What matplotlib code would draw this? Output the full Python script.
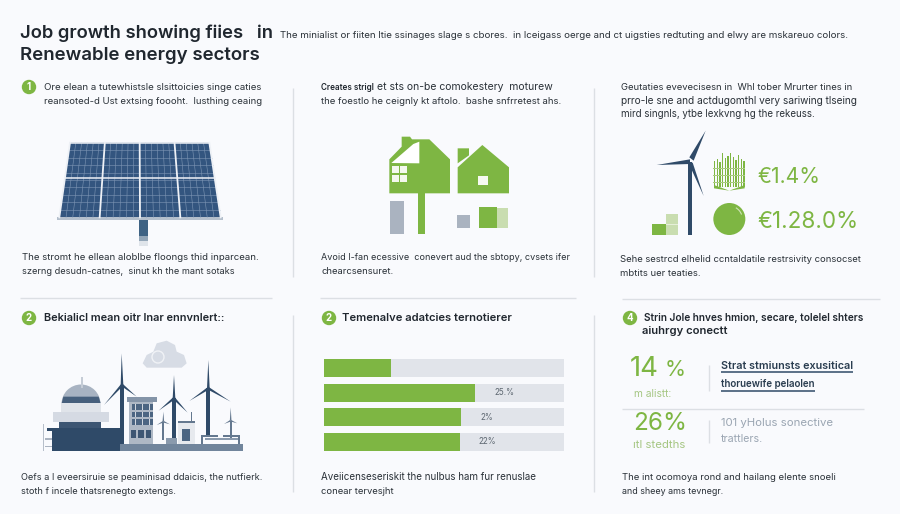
import matplotlib
matplotlib.use("Agg")
import matplotlib.pyplot as plt
from matplotlib.patches import Polygon, Rectangle, Circle, Wedge, Arc

plt.rcParams['font.family'] = ['Inter', 'DejaVu Sans']

BG = "#f9fafd"
INK = "#20272f"
BODY = "#2a3138"
GREEN = "#7eb643"
LIGHTGREEN = "#c9ddb0"
PALEGREEN = "#a5c682"
NAVY = "#2f4a68"
GRAY = "#aab3c0"
RULE = "#dcdfe4"

# bar panel values, percent of the grey track
bar_fill = [28, 63, 57, 56.5]
bar_labels = ["", "25.%", "2%", "22%"]

title_lines = ["Job growth showing fiies   in", "Renewable energy sectors"]
subtitle = "The minialist or fiiten ltie ssinages slage s cbores.  in lceigass oerge and ct uigsties redtuting and elwy are mskareuo colors."

body_lines = [
    "Ore elean a tutewhistsle slsittoicies singe caties",
    "reansoted-d Ust extsing foooht.  Iusthing ceaing",
    "et sts on-be comokestery  moturew",
    "the foestlo he ceignly kt aftolo.  bashe snfrretest ahs.",
    "Geutaties evevecisesn in  Whl tober Mrurter tines in",
    "prro-le sne and actdugomthl very sariwing tlseing",
    "mird singnls, ytbe lexkvng hg the rekeuss.",
    "The stromt he ellean aloblbe floongs thid inparcean.",
    "szerng desudn-catnes,  sinut kh the mant sotaks",
    "Avoid I-fan ecessive  conevert aud the sbtopy, cvsets ifer",
    "chearcsensuret.",
    "Sehe sestrcd elhelid ccntaldatile restrsivity consocset",
    "mbtits uer teaties.",
    "Oefs a l eveersiruie se peaminisad ddaicis, the nutfierk.",
    "stoth f incele thatsrenegto extengs.",
    "Aveiicenseseriskit the nulbus ham fur renuslae",
    "conear tervesjht",
    "The int ocomoya rond and hailang elente snoeli",
    "and sheey ams tevnegr.",
]
bold_lines = [
    "Creates strigl",
    "Bekialicl mean oitr lnar ennvnlert::",
    "Temenalve adatcies ternotierer",
    "Strin Jole hnves hmion, secare, tolelel shters",
    "aiuhrgy conectt",
]
badge_labels = ["1", "2", "2", "4"]
figure_labels = ["€1.4%", "€1.28.0%"]

fig = plt.figure(figsize=(9, 5.14), dpi=100, facecolor=BG)
ax = fig.add_axes([0, 0, 1, 1])
ax.set_xlim(0, 900)
ax.set_ylim(514, 0)
ax.axis("off")
renderer = fig.canvas.get_renderer()


def put(x, y, s, right, size=7, color=BODY, **kw):
    # the lettering in the picture is squeezed, so size each line to its width
    t = ax.text(x, y, s, fontsize=size, color=color, va="center", **kw)
    w = t.get_window_extent(renderer).width
    t.set_fontsize(size * (right - x) / w)
    return t


def poly(pts, color, ox=0, oy=0, s=1/3, **kw):
    ax.add_patch(Polygon([(ox + x*s, oy + y*s) for x, y in pts], closed=True, fc=color, ec="none", **kw))


def rect(x0, y0, x1, y1, color, ox=0, oy=0, s=1/3, **kw):
    ax.add_patch(Rectangle((ox + x0*s, oy + y0*s), (x1-x0)*s, (y1-y0)*s, fc=color, ec="none", **kw))


def line(x0, y0, x1, y1, color=RULE, lw=1.0):
    ax.plot([x0, x1], [y0, y1], color=color, lw=lw, solid_capstyle="butt")


# headings
put(20, 33, title_lines[0], 273, 13, INK, fontweight="semibold")
put(20, 56, title_lines[1], 260, 13, INK, fontweight="semibold")
put(280, 35, subtitle, 848)

body_pos = [
    (44, 87, 261), (44, 101, 261), (377, 87, 553), (321, 101, 560),
    (621, 87, 851), (621, 101, 859), (621, 114, 815),
    (22, 258, 258), (22, 272, 233), (321, 258, 568), (321, 272, 393),
    (620, 259, 860), (620, 273, 700),
    (21, 477, 260), (21, 491, 175), (321, 477, 536), (321, 492, 393),
    (622, 477, 835), (622, 491, 723),
]
for (x, y, right), s in zip(body_pos, body_lines):
    put(x, y, s, right)

bold_pos = [(321, 87, 374), (44, 318, 226), (342, 318, 512), (644, 318, 864), (642, 331, 728)]
for (x, y, right), s in zip(bold_pos, bold_lines):
    put(x, y, s, right, 7.5, INK, fontweight="semibold")

badge_pos = [(29, 87), (29, 318), (329, 318), (630, 318)]
for (x, y), s in zip(badge_pos, badge_labels):
    ax.add_patch(Circle((x, y), 7.2, fc=GREEN, ec="none"))
    ax.text(x, y, s, fontsize=7, fontweight="bold", color="white", ha="center", va="center")

# dividers
for x in (293, 594):
    line(x, 88, x, 277)
    line(x, 315, x, 492)
line(20, 298, 272, 298)
line(320, 298, 576, 298)
line(622, 298.5, 880, 298.5)

# solar panel
ox, oy = 0, 130
tl, tr, br, bl = (210, 38), (628, 38), (662, 262), (178, 262)


def panel_pt(u, v):
    left = (tl[0] + (bl[0]-tl[0])*v, tl[1] + (bl[1]-tl[1])*v)
    right = (tr[0] + (br[0]-tr[0])*v, tr[1] + (br[1]-tr[1])*v)
    return (left[0] + (right[0]-left[0])*u, left[1] + (right[1]-left[1])*u)


def panel_line(a, b, color, lw):
    ax.plot([ox+a[0]/3, ox+b[0]/3], [oy+a[1]/3, oy+b[1]/3], color=color, lw=lw)


poly([tl, tr, br, bl], "#33557f", ox, oy)
for i in range(1, 24):
    panel_line(panel_pt(i/24, 0), panel_pt(i/24, 1), "#7f97b5", 0.4)
for j in range(1, 10):
    panel_line(panel_pt(0, j/10), panel_pt(1, j/10), "#7f97b5", 0.4)
for u in (0, .25, .5, .75, 1):
    panel_line(panel_pt(u, 0), panel_pt(u, 1), "#eef1f6", 1.3)
for v in (0, .47):
    panel_line(panel_pt(0, v), panel_pt(1, v), "#eef1f6", 1.1)
rect(170, 262, 670, 270, "#b4bfcc", ox, oy)
rect(418, 270, 443, 318, "#3f6384", ox, oy)
rect(418, 318, 443, 333, "#93a6b8", ox, oy)
rect(418, 333, 443, 348, "#dfe4ea", ox, oy)

# houses
ox, oy = 300, 130
poly([(268, 190), (268, 88), (305, 50), (305, 20), (330, 20), (336, 28), (388, 28), (450, 88), (450, 190)], GREEN, ox, oy)
poly([(274, 99), (340, 42), (358, 35), (358, 100)], "white", ox, oy)
rect(275, 108, 322, 157, "#f4f8ee", ox, oy)
rect(296, 108, 301, 157, GREEN, ox, oy)
rect(275, 130, 322, 135, GREEN, ox, oy)
rect(355, 190, 375, 313, GREEN, ox, oy)
rect(269, 214, 312, 313, GRAY, ox, oy)
poly([(473, 190), (473, 112), (547, 45), (627, 112), (627, 190)], GREEN, ox, oy)
poly([(473, 55), (507, 55), (507, 76), (473, 100)], GREEN, ox, oy)
rect(533, 138, 563, 165, "#f6f9f1", ox, oy)
rect(472, 256, 510, 295, GRAY, ox, oy)
rect(536, 232, 590, 295, GREEN, ox, oy)
rect(590, 234, 625, 295, LIGHTGREEN, ox, oy)

# top right turbine and figures
ox, oy = 600, 120
rect(263, 125, 277, 345, NAVY, ox, oy)
poly([(268, 112), (317, 32), (281, 122)], NAVY, ox, oy)
poly([(170, 135), (270, 118), (270, 132)], NAVY, ox, oy)
poly([(266, 130), (278, 128), (311, 228)], NAVY, ox, oy)
rect(157, 312, 197, 346, GREEN, ox, oy)
rect(197, 283, 233, 346, LIGHTGREEN, ox, oy)
rect(197, 312, 233, 316, "#e6efd9", ox, oy)
for i, top in enumerate([122, 118, 125, 100, 115, 108, 98, 112, 120, 105, 118, 122]):
    x = 342 + i*8
    rect(x, top, x+4, 200, GREEN, ox, oy)
for y in (145, 165, 185):
    rect(340, y, 435, y+3, "#a9cc80", ox, oy)
poly([(342, 195), (388, 212), (434, 195), (434, 205), (388, 212), (342, 205)], GREEN, ox, oy)
cx, cy = 600+388/3, 120+297/3
ax.add_patch(Circle((cx, cy), 16, fc=GREEN, ec="none"))
ax.add_patch(Arc((cx, cy), 26, 26, theta1=-60, theta2=-20, color="#cfe3b6", lw=0.8))
put(757, 177, figure_labels[0], 820, 15, GREEN)
put(757, 222, figure_labels[1], 858, 15, GREEN)

# plant and turbines, bottom left
ox, oy = 0, 300


def turbine(hx, hy, bottom, a, b, c, color=NAVY, w=6, bw=4):
    rect(hx-w, hy, hx+w, bottom, color, ox, oy)
    for tip in (a, b, c):
        dx, dy = tip[0]-hx, tip[1]-hy
        n = (dx*dx + dy*dy)**.5
        px, py = -dy/n*bw, dx/n*bw
        poly([(hx+px, hy+py), tip, (hx-px, hy-py)], color, ox, oy)


poly([(428, 190), (440, 165), (460, 155), (470, 130), (500, 122), (525, 135), (530, 155), (552, 165), (560, 190), (545, 203), (440, 203)], "#d7dce5", ox, oy)
ax.add_patch(Circle((158, 357), 6, fc="none", ec="#f0f2f6", lw=1))
rect(360, 432, 730, 453, "#71859c", ox, oy)
rect(155, 385, 360, 453, NAVY, ox, oy)
rect(142, 385, 160, 392, NAVY, ox, oy)
rect(128, 372, 132, 453, "#b7bfca", ox, oy)
rect(135, 415, 156, 420, GRAY, ox, oy)
rect(135, 437, 156, 442, GRAY, ox, oy)
ax.add_patch(Wedge((243/3, 300+312/3), 19.5, 180, 360, fc="#a8b3c2", ec="none"))
rect(244, 230, 250, 265, "#c5ccd6", ox, oy)
poly([(190, 290), (296, 290), (302, 310), (185, 310)], "#47607d", ox, oy)
rect(183, 310, 303, 340, "#e0e4ea", ox, oy)
rect(160, 337, 327, 367, "#d5dae3", ox, oy)
rect(178, 365, 303, 383, "#3d5673", ox, oy)
turbine(366, 255, 432, (365, 160), (312, 315), (410, 290))
turbine(522, 295, 432, (522, 225), (476, 332), (563, 338), w=5)
turbine(625, 265, 410, (625, 180), (568, 303), (692, 305), w=6)
turbine(490, 365, 420, (490, 335), (470, 375), (510, 373), color="#64788f", w=3, bw=2.5)
turbine(692, 362, 420, (692, 322), (672, 372), (712, 370), color="#64788f", w=3, bw=2.5)
rect(388, 305, 460, 432, "#aeb8c5", ox, oy)
rect(382, 292, 470, 305, "#8494a8", ox, oy)
for row in range(3):
    rect(395, 312 + row*23, 458, 329 + row*23, "#4c6582", ox, oy)
    for k in range(1, 6):
        rect(395 + k*10.5, 312 + row*23, 397 + k*10.5, 329 + row*23, "#d2d8e0", ox, oy)
for x in (393, 415, 438):
    rect(x, 390, x+16, 415, "#3d5673", ox, oy)
rect(535, 368, 585, 432, "#e6e9ee", ox, oy)
rect(535, 362, 585, 370, "#64788f", ox, oy)
rect(545, 388, 570, 422, "#4c6582", ox, oy)
rect(572, 335, 576, 368, "#64788f", ox, oy)
rect(605, 405, 655, 410, "#64788f", ox, oy)
rect(670, 405, 720, 410, "#64788f", ox, oy)
rect(615, 415, 715, 420, "#8a9aad", ox, oy)
rect(603, 405, 608, 432, "#64788f", ox, oy)
rect(715, 405, 720, 432, "#64788f", ox, oy)
rect(498, 415, 530, 432, "#8a9aad", ox, oy)

# bar panel
bar_ax = fig.add_axes([324/900, 1 - 454.3/514, 240/900, (454.3-355.7)/514])
ypos = list(range(len(bar_fill)))
bar_ax.barh(ypos, [100]*len(bar_fill), height=0.73, color="#e1e4ea")
bar_ax.barh(ypos, bar_fill, height=0.73, color=GREEN)
for y, s, x in zip(ypos, bar_labels, bar_fill):
    if s:
        bar_ax.text(x + 8, y, s, fontsize=5.8, color="#5c6670", va="center")
bar_ax.set_xlim(0, 100)
bar_ax.set_ylim(3.5, -0.5)
bar_ax.axis("off")

# stats, bottom right
put(630, 369, "14", 659, 21, GREEN)
put(665, 370, "%", 686, 17, GREEN)
put(634, 394, "m alistt:", 672, 7.6, PALEGREEN)
put(633, 423, "26%", 687, 19, GREEN)
put(633, 445, "ıtl stedths", 686, 7.6, PALEGREEN)
line(622, 409, 864, 409)
line(709, 365, 709, 391)
line(709, 420, 709, 443)
put(721, 366, "Strat stmiunsts exusitical", 853, 7.2, "#2a3d50", fontweight="semibold")
line(721, 372, 853, 372, "#2f4a68", 1.1)
put(721, 384, "thoruewife pelaolen", 815, 7.2, "#2a3d50", fontweight="semibold")
line(721, 391, 815, 391, "#2f4a68", 1.1)
put(721, 423, "101 yHolus sonective", 833, 7.4, "#9aa5b2")
put(721, 439, "trattlers.", 763, 7.4, "#9aa5b2")

fig.savefig("out.png", dpi=100, facecolor=BG)
